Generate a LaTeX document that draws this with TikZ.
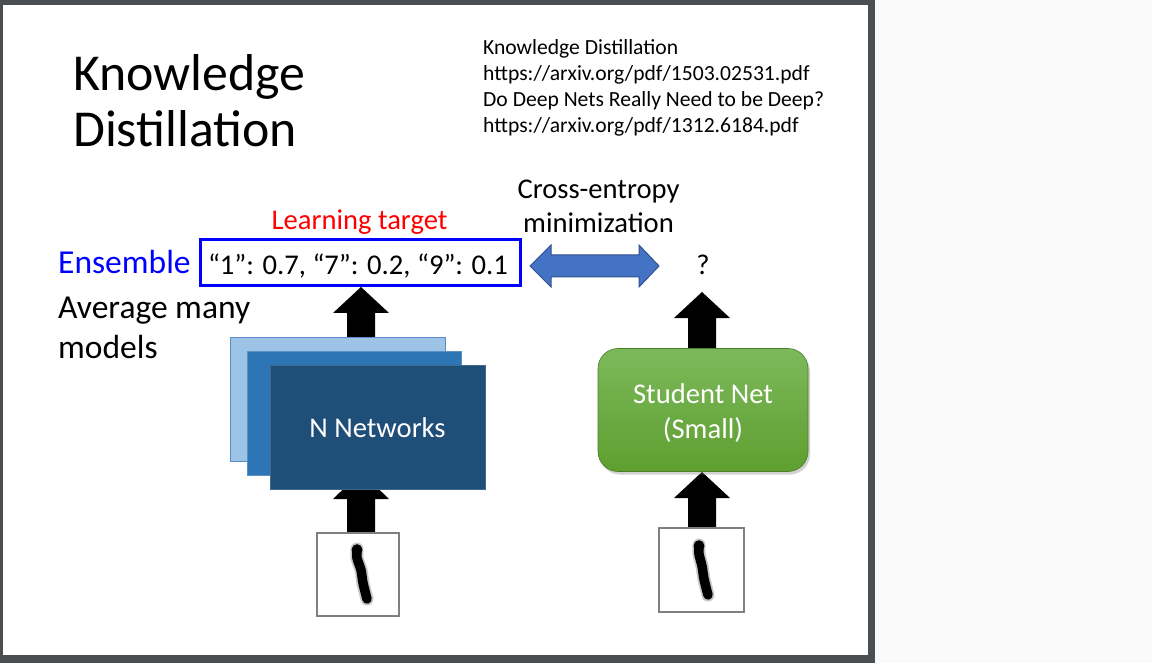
\documentclass[tikz,border=0pt]{standalone}
\usepackage{fontspec}
\setmainfont{Carlito}
\usetikzlibrary{shadows}

\definecolor{framegray}{HTML}{4B4F52}
\definecolor{pagebg}{HTML}{FAFAFA}
\definecolor{netlight}{HTML}{9DC3E6}
\definecolor{netlightedge}{HTML}{5B8BC5}
\definecolor{netmid}{HTML}{2E75B6}
\definecolor{netdark}{HTML}{1F4E79}
\definecolor{arrowblue}{HTML}{4472C4}
\definecolor{arrowblueedge}{HTML}{2F528F}
\definecolor{greentop}{HTML}{7DB95B}
\definecolor{greenbot}{HTML}{5E9F30}
\definecolor{ensblue}{HTML}{0000FF}
\definecolor{targetred}{HTML}{FF0000}

\tikzset{
  body/.style={font=\fontsize{28.6}{34}\selectfont, inner sep=0pt},
  side/.style={font=\fontsize{33.5}{40}\selectfont, inner sep=0pt},
  refs/.style={font=\fontsize{21.6}{26}\selectfont, inner sep=0pt},
  blockarrow/.style={fill=black, draw=none},
  netcard/.style={line width=0.8pt},
  digitbox/.style={draw=gray, line width=1.5pt, fill=white},
  digitstroke/.style={line width=9.5pt, line cap=round, line join=round, black},
  digithalo/.style={line width=13pt, line cap=round, line join=round, black, opacity=0.22},
}

\begin{document}
\begin{tikzpicture}[x=1pt,y=-1pt]
  \useasboundingbox (0,0) rectangle (1152,663);

  % window background, slide frame and slide
  \fill[pagebg] (0,0) rectangle (1152,663);
  \fill[framegray] (0,0) rectangle (875,663);
  \fill[white] (3,5) rectangle (868,655);

  % title
  \node[anchor=base west, inner sep=0pt, font=\fontsize{51.8}{56}\selectfont] (title1) at (73,91) {Knowledge};
  \node[anchor=base west, inner sep=0pt, font=\fontsize{51.8}{56}\selectfont] (title2) at (73,147) {Distillation};

  % references
  \node[refs, anchor=base west] (ref1) at (483,55) {Knowledge Distillation};
  \node[refs, anchor=base west] (ref2) at (483,81) {https://arxiv.org/pdf/1503.02531.pdf};
  \node[refs, anchor=base west] (ref3) at (483,107) {Do Deep Nets Really Need to be Deep?};
  \node[refs, anchor=base west] (ref4) at (483,133) {https://arxiv.org/pdf/1312.6184.pdf};

  % labels
  \node[body, anchor=base] (ce1) at (598.5,199) {Cross-entropy};
  \node[body, anchor=base] (ce2) at (598.5,233) {minimization};
  \node[body, anchor=base, text=targetred] (target) at (359.5,230) {Learning target};
  \node[side, anchor=base west, text=ensblue] (ens) at (58,274) {Ensemble};
  \node[side, anchor=base west] (avg1) at (58,319) {Average many};
  \node[side, anchor=base west] (avg2) at (58,358) {models};

  % soft-target box
  \draw[ensblue, line width=3pt] (200,240) rectangle (520,286);
  \node[body, anchor=base] (probs) at (358,275) {“1”: 0.7, “7”: 0.2, “9”: 0.1};

  % student output
  \node[body, anchor=base] (qmark) at (703,275) {?};

  % cross-entropy double arrow
  \filldraw[fill=arrowblue, draw=arrowblueedge, line width=1pt]
    (530,266) -- (551,245) -- (551,255) -- (639,255) -- (639,245) -- (659,266)
    -- (639,287) -- (639,277) -- (551,277) -- (551,287) -- cycle;

  % block arrows (teacher side)
  \fill[blockarrow] (361,287) -- (389,313) -- (375,313) -- (375,350) -- (347,350) -- (347,313) -- (333,313) -- cycle;
  \fill[blockarrow] (361,472) -- (389,499) -- (375,499) -- (375,532) -- (347,532) -- (347,499) -- (333,499) -- cycle;
  % block arrows (student side)
  \fill[blockarrow] (702,292) -- (730,318) -- (716,318) -- (716,350) -- (688,350) -- (688,318) -- (674,318) -- cycle;
  \fill[blockarrow] (702,472) -- (730,498) -- (716,498) -- (716,529) -- (688,529) -- (688,498) -- (674,498) -- cycle;

  % stacked teacher networks
  \filldraw[netcard, fill=netlight, draw=netlightedge] (230,337) rectangle (445,461);
  \filldraw[netcard, fill=netmid, draw=netmid!80!white] (247,351) rectangle (461,475);
  \filldraw[netcard, fill=netdark, draw=netdark!85!white] (270,365) rectangle (485,489);
  \node[body, text=white, anchor=base] (nnets) at (377.5,437) {N Networks};

  % student network
  \node[draw=greenbot!80!black, line width=0.6pt, rounded corners=20pt,
        top color=greentop, bottom color=greenbot,
        drop shadow={shadow xshift=2pt, shadow yshift=-3pt, opacity=0.35},
        minimum width=210pt, minimum height=123pt, inner sep=0pt] (student) at (703,410) {};
  \node[body, text=white, anchor=base] (stu1) at (703,403) {Student Net};
  \node[body, text=white, anchor=base] (stu2) at (703,438) {(Small)};

  % input digits (handwritten "1")
  \filldraw[digitbox] (317,533) rectangle (399,616);
  \draw[digithalo] plot[smooth] coordinates {(357,549) (357,558) (361,570) (363,583) (367,599)};
  \draw[digitstroke] plot[smooth] coordinates {(357,549) (357,558) (361,570) (363,583) (367,599)};
  \fill (357,550) circle (5.5pt);

  \filldraw[digitbox] (659,528) rectangle (744,612);
  \draw[digithalo] plot[smooth] coordinates {(699,545) (699,554) (702,566) (704,579) (708,595)};
  \draw[digitstroke] plot[smooth] coordinates {(699,545) (699,554) (702,566) (704,579) (708,595)};
  \fill (699,546) circle (5.5pt);
\end{tikzpicture}
\end{document}
